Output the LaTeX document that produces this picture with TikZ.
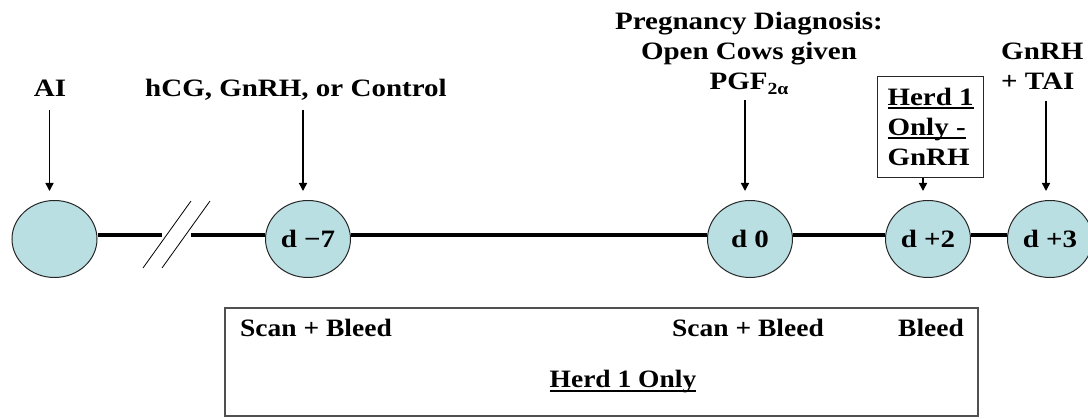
\documentclass[tikz,border=0pt]{standalone}
\usepackage{fontspec}
\setmainfont{Liberation Serif}[FakeStretch=1.16]
\newfontfamily\panelfont{Liberation Serif}[FakeStretch=1.1]
\usetikzlibrary{shapes.geometric,arrows.meta,calc}

\definecolor{stage}{HTML}{BADFE3}
\definecolor{frame}{HTML}{505050}

\newcommand\lblfont{\fontsize{25}{30}\selectfont\bfseries}
\newcommand\pnlfont{\panelfont\fontsize{25}{30}\selectfont\bfseries}
\newcommand\ulbox[1]{\setbox0=\hbox{#1}\rlap{\rule[-3.6pt]{\wd0}{1.8pt}}\box0}
\newcommand\subsc[1]{\raisebox{-5pt}{\fontsize{17}{17}\selectfont #1}}

\tikzset{
  day/.style={ellipse, draw=black!85, line width=1pt, fill=stage,
    minimum width=85pt, minimum height=77pt, inner sep=0pt, font=\lblfont},
  lbl/.style={font=\lblfont, inner sep=0pt, anchor=base},
  plbl/.style={font=\pnlfont, inner sep=0pt, anchor=base west},
  timeline/.style={line width=3.2pt, black},
  pointer/.style={line width=1.5pt, black, -{Triangle[length=8pt,width=8pt]}},
  breakmark/.style={line width=0.8pt, black},
  panel/.style={draw=frame, line width=1.3pt, inner sep=0pt},
}

\begin{document}
\begin{tikzpicture}[x=1pt, y=-1pt]
\useasboundingbox (0,0) rectangle (1088,419);

% day markers on the time axis
\node[day] (c0)  at (54.5,239) {};
\node[day] (cm7) at (308,239) {d −7};
\node[day] (d0)  at (750,239) {d 0};
\node[day] (dp2) at (928,239) {d +2};
\node[day] (dp3) at (1050,239) {d +3};

% time axis with a break between AI and d -7
\coordinate (gapL) at (162,235);
\coordinate (gapR) at (191,235);
\draw[timeline] ([yshift=4pt]c0.east) -- (gapL);
\draw[timeline] (gapR) -- ([yshift=4pt]cm7.west);
\draw[timeline] ([yshift=4pt]cm7.east) -- ([yshift=4pt]d0.west);
\draw[timeline] ([yshift=4pt]d0.east) -- ([yshift=4pt]dp2.west);
\draw[timeline] ([yshift=4pt]dp2.east) -- ([yshift=4pt]dp3.west);
\draw[breakmark] (143,268) -- (191,201);
\draw[breakmark] (162,268) -- (210,201);

% treatment labels (multi-line labels sit on the baseline of their last line)
\node[lbl] (tAI)  at (50,97) {AI};
\node[lbl] (tHCG) at (296,97) {hCG, GnRH, or Control};
\node[lbl, align=center] (tPD) at (749,90)
  {Pregnancy Diagnosis:\\Open Cows given\\PGF\subsc{2α}};
\node[lbl, align=left, anchor=base west] (tTAI) at (1001,90) {GnRH\\+ TAI};
\node[draw=black!85, line width=1pt, font=\lblfont, align=left, anchor=north west,
  inner xsep=10pt, inner ysep=11.5pt] (tH1) at (877,76)
  {\ulbox{Herd 1}\\\ulbox{Only -}\\GnRH};

% arrows to the day markers
\draw[pointer] ($(c0.north |- tAI.base)+(-5,13)$) -- ($(c0.north)+(-5,-9)$);
\draw[pointer] ($(cm7.north |- tHCG.base)+(-5,13)$) -- ($(cm7.north)+(-5,-9)$);
\draw[pointer] ($(d0.north |- tPD.base)+(-5,10)$) -- ($(d0.north)+(-5,-9)$);
\draw[pointer] ($(dp2.north |- tH1.south)+(-5,0)$) -- ($(dp2.north)+(-5,-9)$);
\draw[pointer] ($(dp3.north |- tTAI.base)+(-4,11)$) -- ($(dp3.north)+(-4,-9)$);

% sampling panel
\node[panel, minimum width=753pt, minimum height=108pt] (pan) at (601.5,362) {};
\node[plbl] (s1) at (240,337) {Scan + Bleed};
\node[plbl] (s2) at (672,337) {Scan + Bleed};
\node[plbl] (s3) at (898,337) {Bleed};
\node[plbl, anchor=base] (s4) at (623,388) {\ulbox{Herd 1 Only}};
\end{tikzpicture}
\end{document}
